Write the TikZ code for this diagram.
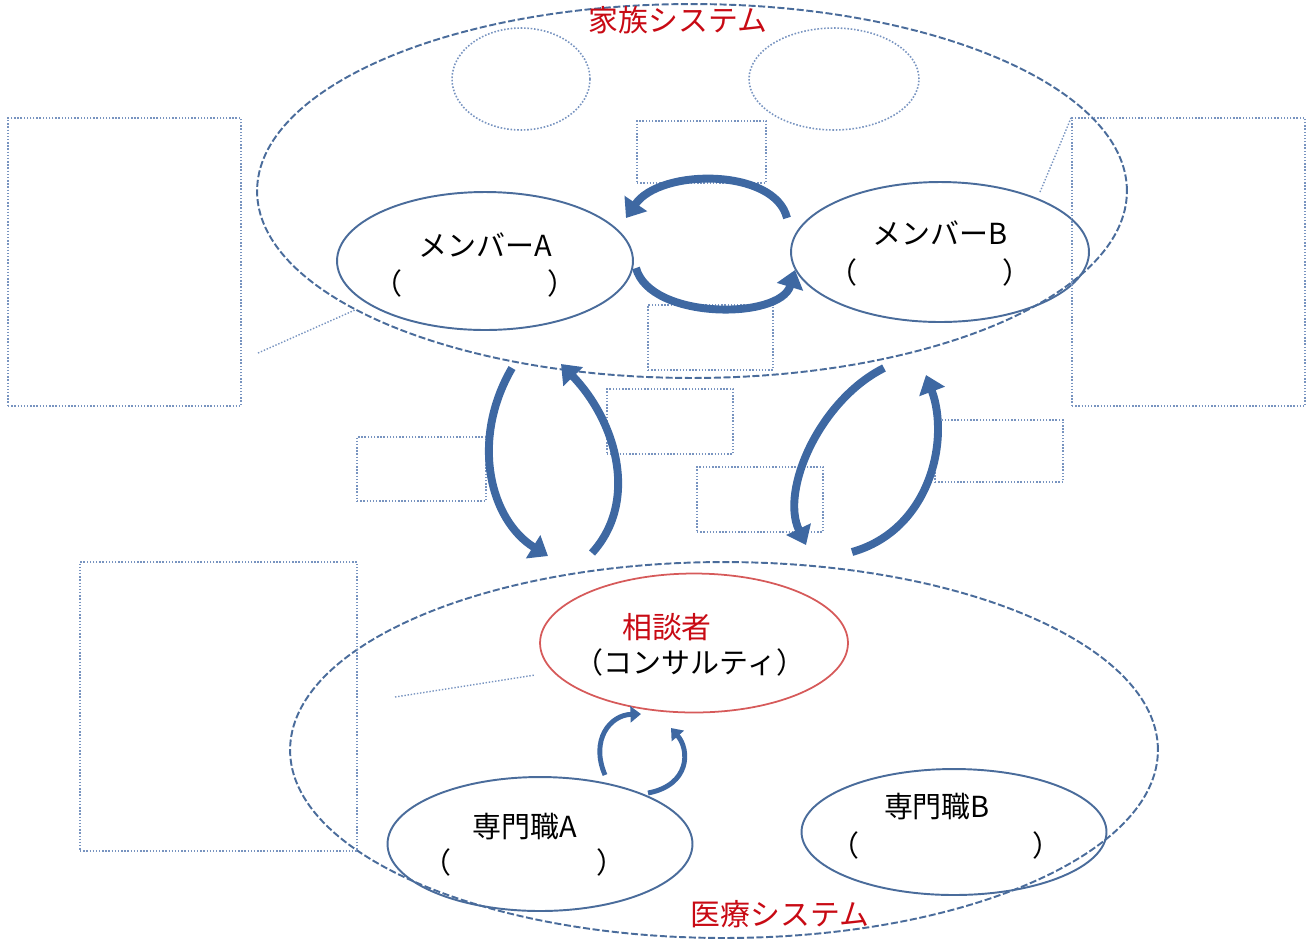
\documentclass[tikz,border=0pt]{standalone}
\usepackage{fontspec}
\newfontfamily\jpfont{Noto Sans CJK JP}
\usetikzlibrary{shapes.geometric,arrows.meta}
\definecolor{sysblue}{RGB}{74,108,155}
\definecolor{boxblue}{RGB}{120,148,192}
\definecolor{flowblue}{RGB}{62,104,162}
\definecolor{sysred}{RGB}{200,10,20}
\definecolor{ringred}{RGB}{214,90,90}

\begin{document}
\begin{tikzpicture}[x=0.02cm,y=-0.02cm,
    system/.style={ellipse,draw=sysblue,line width=1.1pt,dash pattern=on 4pt off 1.5pt,inner sep=0pt},
    member/.style={ellipse,draw=sysblue,line width=1.1pt,inner sep=0pt},
    hole/.style={ellipse,draw=boxblue,densely dotted,line width=0.9pt,inner sep=0pt},
    blank/.style={draw=boxblue,densely dotted,line width=0.8pt,inner sep=0pt},
    lead/.style={draw=boxblue,densely dotted,line width=0.8pt},
    flow/.style={draw=flowblue,line width=4.5pt,-{Triangle[width=15pt,length=10pt]}},
    smallflow/.style={draw=flowblue,line width=2.8pt,-{Triangle[width=9pt,length=6pt]}},
    lbl/.style={font=\jpfont\fontsize{16.5}{18}\selectfont},
    title/.style={font=\jpfont\fontsize{17}{19}\selectfont,text=sysred}]
  \useasboundingbox (0,0) rectangle (1307,941);

  % systems
  \node[system,minimum width=17.4cm,minimum height=7.48cm]  (fam) at (692,191) {};
  \node[system,minimum width=17.36cm,minimum height=7.52cm] (med) at (724,750) {};
  \node[title] (famtitle) at (678,20)  {家族システム};
  \node[title] (medtitle) at (780,914) {医療システム};

  % family members
  \node[hole,minimum width=2.76cm,minimum height=2.04cm] (holeL) at (521,79) {};
  \node[hole,minimum width=3.4cm,minimum height=2.04cm]  (holeR) at (834,79) {};
  \node[member,minimum width=5.92cm,minimum height=2.76cm] (memA) at (485,261) {};
  \node[member,minimum width=5.96cm,minimum height=2.8cm]  (memB) at (940,252) {};
  \node[lbl] (memAname) at (485,245) {メンバーA};
  \node[lbl] (memAnote) at (475,283) {（　　　　　）};
  \node[lbl] (memBname) at (940,233) {メンバーB};
  \node[lbl] (memBnote) at (930,272) {（　　　　　）};

  % medical side
  \node[ellipse,draw=ringred,line width=1pt,inner sep=0pt,
        minimum width=6.16cm,minimum height=2.78cm] (cons) at (694,643) {};
  \node[title] (consname) at (667,627) {相談者};
  \node[lbl]   (consnote) at (690,662) {（コンサルティ）};
  \node[member,minimum width=6.1cm,minimum height=2.68cm] (proA) at (540,844) {};
  \node[member,minimum width=6.1cm,minimum height=2.52cm] (proB) at (954,832) {};
  \node[lbl] (proAname) at (525,827) {専門職A};
  \node[lbl] (proAnote) at (524,862) {（　　　　　）};
  \node[lbl] (proBname) at (937,807) {専門職B};
  \node[lbl] (proBnote) at (946,845) {（　　　　　　）};

  % blank boxes
  \node[blank,minimum width=2.58cm,minimum height=1.24cm] (boxTop) at (701.5,152) {};
  \node[blank,minimum width=2.5cm,minimum height=1.3cm]   (boxMid) at (710.5,337.5) {};
  \node[blank,minimum width=4.66cm,minimum height=5.76cm] (boxL)   at (124.5,262) {};
  \node[blank,minimum width=4.66cm,minimum height=5.76cm] (boxR)   at (1188.5,262) {};
  \node[blank,minimum width=2.58cm,minimum height=1.28cm] (box1)   at (421.5,469) {};
  \node[blank,minimum width=2.52cm,minimum height=1.3cm]  (box2)   at (670,421.5) {};
  \node[blank,minimum width=2.52cm,minimum height=1.3cm]  (box3)   at (760,499.5) {};
  \node[blank,minimum width=2.56cm,minimum height=1.24cm] (box4)   at (999,451) {};
  \node[blank,minimum width=5.54cm,minimum height=5.78cm] (boxLow) at (218.5,706.5) {};

  % leader lines
  \coordinate (leadL) at (258,353);
  \coordinate (leadR) at (1040,192);
  \coordinate (leadC) at (395,697);
  \draw[lead] (leadL) -- (355,310);
  \draw[lead] (leadR) -- (boxR.north west);
  \draw[lead] (leadC) -- (535,675);

  % arrows between members
  \coordinate (ab1) at (787,218);  \coordinate (ab2) at (626,218);
  \coordinate (ba1) at (636,268);  \coordinate (ba2) at (795,270);
  \draw[flow] (ab1) .. controls (775,168) and (660,168) .. (ab2);
  \draw[flow] (ba1) .. controls (650,320) and (780,320) .. (ba2);

  % arrows between the systems
  \coordinate (fa1) at (512,368);  \coordinate (ma1) at (548,556);
  \coordinate (ma2) at (592,553);  \coordinate (fa2) at (561,364);
  \coordinate (fb1) at (884,368);  \coordinate (mb1) at (806,545);
  \coordinate (mb2) at (852,552);  \coordinate (fb2) at (926,375);
  \draw[flow] (fa1) .. controls (470,440) and (490,520) .. (ma1);
  \draw[flow] (ma2) .. controls (640,500) and (615,420) .. (fa2);
  \draw[flow] (fb1) .. controls (820,400) and (780,490) .. (mb1);
  \draw[flow] (mb2) .. controls (930,530) and (950,440) .. (fb2);

  % arrows consultee / professional
  \coordinate (pc1) at (605,775);  \coordinate (pc2) at (641,714);
  \coordinate (cp1) at (648,793);  \coordinate (cp2) at (671,728);
  \draw[smallflow] (pc1) .. controls (590,740) and (610,715) .. (pc2);
  \draw[smallflow] (cp1) .. controls (690,785) and (690,750) .. (cp2);
\end{tikzpicture}
\end{document}
